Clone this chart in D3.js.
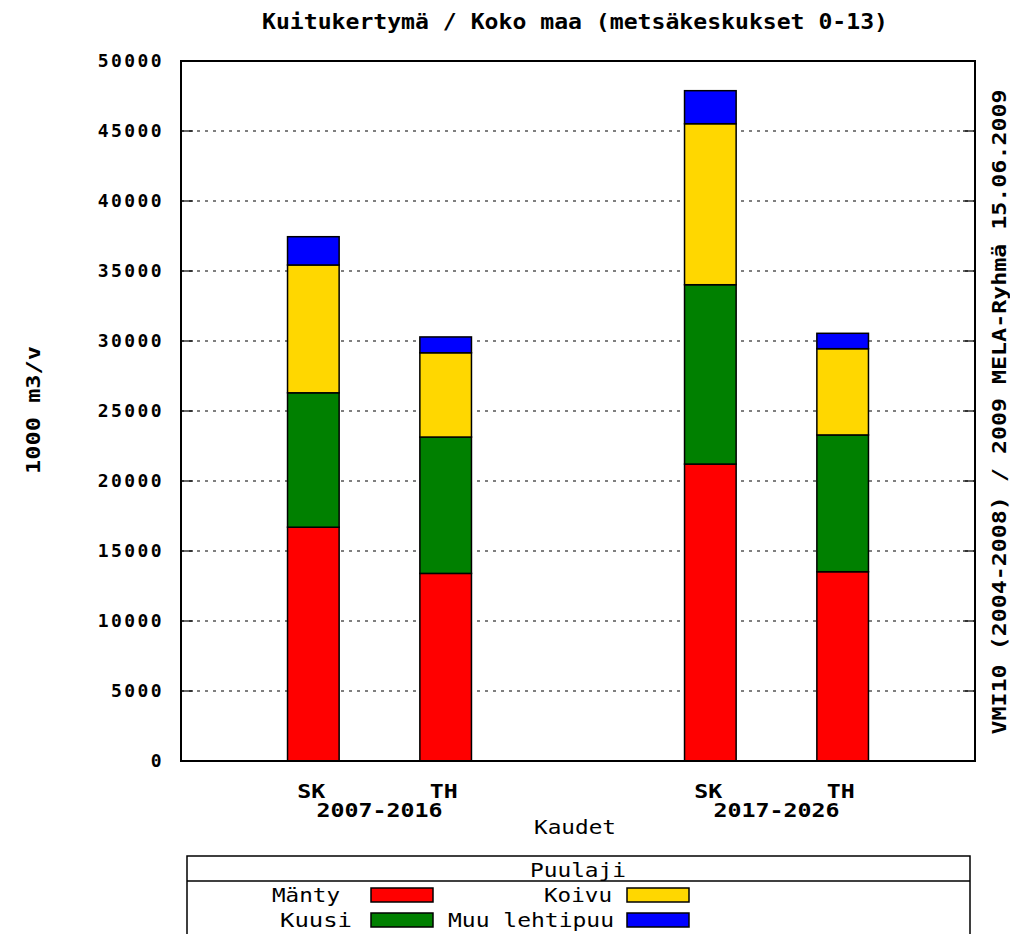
<!DOCTYPE html>
<html><head><meta charset="utf-8">
<script src="https://cdn.jsdelivr.net/npm/d3@7"></script>
<style>
body{margin:0;background:#fff;}
text{font-family:"DejaVu Sans Mono",monospace;fill:#000;}
</style></head>
<body><svg id="c" width="1010" height="934"></svg>
<script>
const periods = ["2007-2016","2017-2026"];
const scenarios = ["SK","TH","SK","TH"];
const slots = [1,2,4,5];
const species = ["Mänty","Kuusi","Koivu","Muu lehtipuu"];
const colors = ["#ff0000","#008000","#ffd700","#0000ff"];
const manty = [16700,13400,21210,13520];
const kuusi = [9600,9740,12810,9770];
const koivu = [9130,6020,11500,6160];
const muu   = [2020,1130,2360,1100];
const yTicks = [0,5000,10000,15000,20000,25000,30000,35000,40000,45000,50000];

const svg = d3.select("#c");
const L=181, R=975, T=61, B=761;
const x = d3.scaleLinear().domain([0,6]).range([L,R]);
const y = d3.scaleLinear().domain([0,50000]).range([B,T]);

// grid
svg.append("g").selectAll("line").data(yTicks.filter(d=>d>0&&d<50000)).join("line")
  .attr("x1",L).attr("x2",R).attr("y1",d=>y(d)).attr("y2",d=>y(d))
  .attr("stroke","#555").attr("stroke-width",1.5).attr("stroke-dasharray","3,5");

// ticks (inside, both sides)
const tg = svg.append("g");
tg.selectAll("line.l").data(yTicks).join("line").attr("class","l")
  .attr("x1",L).attr("x2",L+12).attr("y1",d=>y(d)).attr("y2",d=>y(d)).attr("stroke","#000").attr("stroke-width",1.2);
tg.selectAll("line.r").data(yTicks).join("line").attr("class","r")
  .attr("x1",R).attr("x2",R-12).attr("y1",d=>y(d)).attr("y2",d=>y(d)).attr("stroke","#000").attr("stroke-width",1.2);

// stacked bars
const rows = slots.map((s,i)=>({slot:s,"Mänty":manty[i],"Kuusi":kuusi[i],"Koivu":koivu[i],"Muu lehtipuu":muu[i]}));
const stack = d3.stack().keys(species)(rows);
const bw = x(0.39)-x(0);
svg.append("g").selectAll("g").data(stack).join("g")
  .attr("fill",(d,i)=>colors[i])
  .selectAll("rect").data(d=>d).join("rect")
  .attr("x",d=>x(d.data.slot)-bw/2).attr("width",bw)
  .attr("y",d=>y(d[1])).attr("height",d=>y(d[0])-y(d[1]))
  .attr("stroke","#000").attr("stroke-width",1.5);

// frame
svg.append("rect").attr("x",L).attr("y",T).attr("width",R-L).attr("height",B-T)
  .attr("fill","none").attr("stroke","#000").attr("stroke-width",2);

// y tick labels
svg.append("g").selectAll("text").data(yTicks).join("text")
  .attr("x",164).attr("y",d=>y(d)+6).attr("text-anchor","end")
  .attr("font-size",18).attr("font-weight","bold").attr("letter-spacing",2.4)
  .text(d=>d);

// x labels
svg.append("g").selectAll("text").data(scenarios).join("text")
  .attr("x",(d,i)=>x(slots[i])-2).attr("y",798).attr("text-anchor","middle")
  .attr("font-size",20).attr("font-weight","bold").attr("textLength",28).attr("lengthAdjust","spacingAndGlyphs").text(d=>d);
svg.append("g").selectAll("text").data(periods).join("text")
  .attr("x",(d,i)=>x(i===0?1.5:4.5)).attr("y",817).attr("text-anchor","middle")
  .attr("font-size",20).attr("font-weight","bold").attr("textLength",126).attr("lengthAdjust","spacingAndGlyphs").text(d=>d);
svg.append("text").attr("x",x(3)-3).attr("y",834).attr("text-anchor","middle")
  .attr("font-size",20).attr("textLength",82).attr("lengthAdjust","spacingAndGlyphs").text("Kaudet");

// title
svg.append("text").attr("x",575).attr("y",29).attr("text-anchor","middle")
  .attr("font-size",21).attr("font-weight","bold").attr("textLength",626).attr("lengthAdjust","spacingAndGlyphs")
  .text("Kuitukertymä / Koko maa (metsäkeskukset 0-13)");

// y axis label
svg.append("text").attr("transform","translate(40,410) rotate(-90)").attr("text-anchor","middle")
  .attr("font-size",20).attr("font-weight","bold").attr("textLength",128).attr("lengthAdjust","spacingAndGlyphs")
  .text("1000 m3/v");

// right label
svg.append("text").attr("transform","translate(1006,412) rotate(-90)").attr("text-anchor","middle")
  .attr("font-size",20).attr("font-weight","bold").attr("textLength",645).attr("lengthAdjust","spacingAndGlyphs")
  .text("VMI10 (2004-2008) / 2009 MELA-Ryhmä 15.06.2009");

// legend
const lg = svg.append("g");
lg.append("rect").attr("x",187).attr("y",856).attr("width",783).attr("height",100)
  .attr("fill","#fff").attr("stroke","#000").attr("stroke-width",1.5);
lg.append("line").attr("x1",187).attr("x2",970).attr("y1",881).attr("y2",881).attr("stroke","#000").attr("stroke-width",1.5);
lg.append("text").attr("x",578).attr("y",877).attr("text-anchor","middle").attr("font-size",20)
  .attr("textLength",96).attr("lengthAdjust","spacingAndGlyphs").text("Puulaji");
const legPos = [
  {tx:340, sx:371, y:895, w:68},
  {tx:352, sx:371, y:920, w:72},
  {tx:612, sx:627, y:895, w:68},
  {tx:614, sx:627, y:920, w:166}
];
const le = lg.selectAll("g").data(species).join("g");
le.append("text").attr("x",(d,i)=>legPos[i].tx).attr("y",(d,i)=>legPos[i].y+7)
  .attr("text-anchor","end").attr("font-size",20)
  .attr("textLength",(d,i)=>legPos[i].w).attr("lengthAdjust","spacingAndGlyphs").text(d=>d);
le.append("rect").attr("x",(d,i)=>legPos[i].sx).attr("y",(d,i)=>legPos[i].y-7)
  .attr("width",62).attr("height",14).attr("fill",(d,i)=>colors[i])
  .attr("stroke","#000").attr("stroke-width",1.5);
</script></body></html>
